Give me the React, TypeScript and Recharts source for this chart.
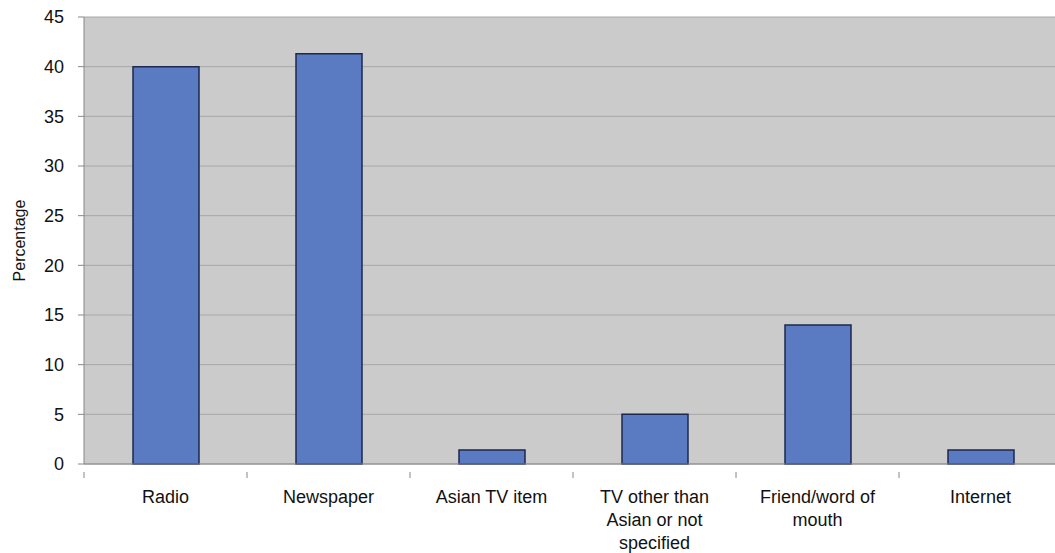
import { BarChart, Bar, XAxis, YAxis, CartesianGrid } from "recharts"

const categories = [
  "Radio",
  "Newspaper",
  "Asian TV item",
  "TV other than Asian or not specified",
  "Friend/word of mouth",
  "Internet",
]
const percentages = [40, 41.3, 1.4, 5, 14, 1.4]
const yTicks = [0, 5, 10, 15, 20, 25, 30, 35, 40, 45]

const data = categories.map((name, i) => ({ name, value: percentages[i] }))

const FONT = "'Liberation Sans', Arial, Helvetica, sans-serif"

function wrapLabel(label: string, max = 14) {
  const lines: string[] = []
  let cur = ""
  for (const w of label.split(" ")) {
    const next = cur ? cur + " " + w : w
    if (next.length > max && cur) {
      lines.push(cur)
      cur = w
    } else {
      cur = next
    }
  }
  if (cur) lines.push(cur)
  return lines
}

function CategoryTick(props: any) {
  const { x, y, payload } = props
  const half = payload.offset || 0
  const lines = wrapLabel(String(payload.value))
  return (
    <g>
      <line x1={x - half} x2={x - half} y1={y} y2={y + 6} stroke="#888" />
      <text x={x} y={y + 31} textAnchor="middle" fontSize={18} fontFamily={FONT} fill="#111">
        {lines.map((l, i) => (
          <tspan key={i} x={x} dy={i === 0 ? 0 : 23}>
            {l}
          </tspan>
        ))}
      </text>
    </g>
  )
}

export default function App() {
  return (
    <div style={{ position: "absolute", left: 0, top: 0, width: 1055, height: 553, overflow: "hidden", background: "#fff" }}>
      <BarChart
        width={1070}
        height={553}
        data={data}
        margin={{ top: 17, right: 8, bottom: 0, left: 0 }}
        barSize={66}
      >
        <CartesianGrid vertical={false} fill="#cbcbcb" stroke="#a8a8a8" fillOpacity={1} />
        <XAxis
          dataKey="name"
          height={89}
          interval={0}
          tickLine={false}
          axisLine={{ stroke: "#888" }}
          tick={<CategoryTick />}
        />
        <YAxis
          width={84}
          domain={[0, 45]}
          ticks={yTicks}
          interval={0}
          tickSize={6}
          tickMargin={14}
          tickLine={{ stroke: "#888" }}
          axisLine={{ stroke: "#888" }}
          tick={{ fontSize: 18, fontFamily: FONT, fill: "#111" }}
          label={{
            value: "Percentage",
            angle: -90,
            position: "insideLeft",
            offset: 0,
            dx: 19,
            style: { fontSize: 16, fontFamily: FONT, fill: "#111", textAnchor: "middle" },
          }}
        />
        <Bar dataKey="value" fill="#5a7bc2" stroke="#1c2850" strokeWidth={1.5} isAnimationActive={false} />
      </BarChart>
    </div>
  )
}
